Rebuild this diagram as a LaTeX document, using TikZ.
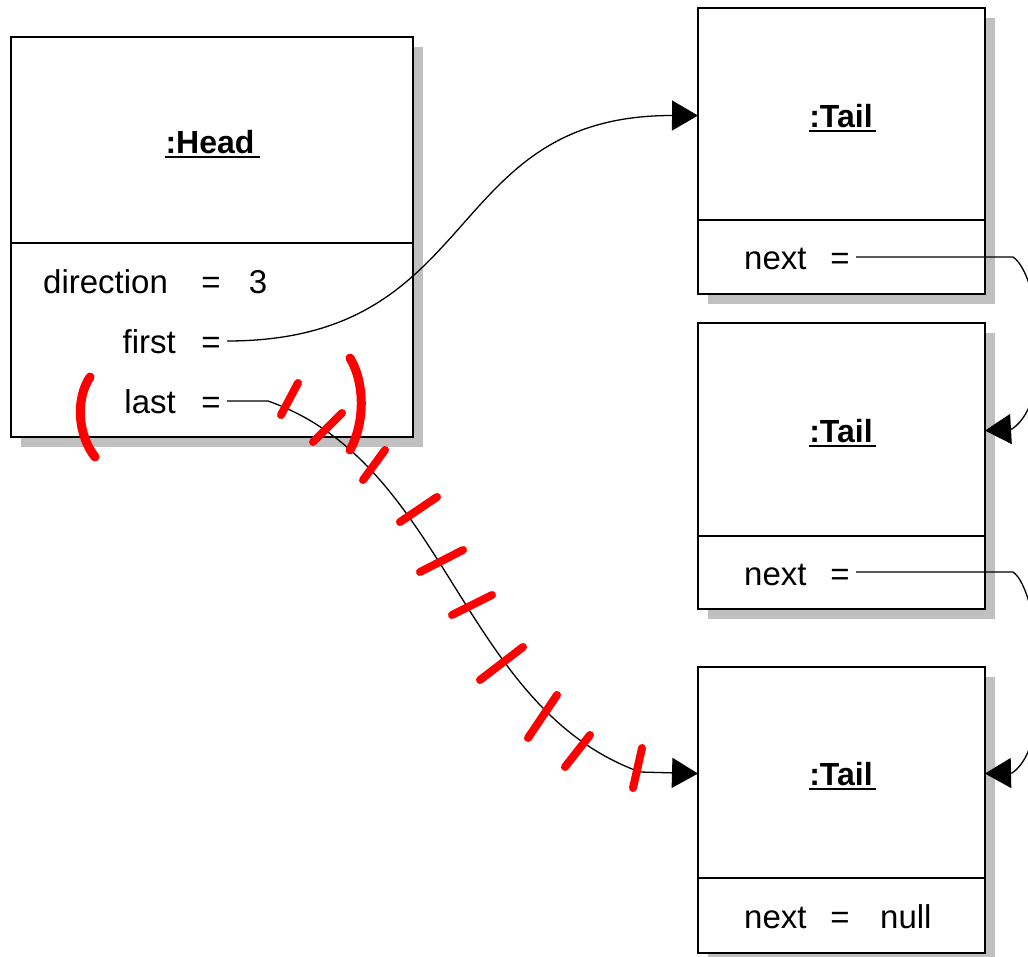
\documentclass[tikz,border=0pt]{standalone}
\usepackage{fontspec}
\setmainfont{Liberation Sans}
\usetikzlibrary{arrows.meta,shadows}
\definecolor{shadowc}{RGB}{192,192,192}
\definecolor{markred}{RGB}{255,0,0}
\begin{document}
\begin{tikzpicture}[x=1pt,y=-1pt,
  obj/.style={draw, line width=2pt, fill=white, inner sep=0pt, outer sep=0pt,
    general shadow={fill=shadowc, shadow xshift=10pt, shadow yshift=-10pt}},
  headbox/.style={obj, minimum width=402pt, minimum height=400pt},
  tailbox/.style={obj, minimum width=287pt, minimum height=286pt},
  title/.style={font=\fontsize{32}{32}\selectfont\bfseries, inner sep=0pt, anchor=base},
  attr/.style={font=\fontsize{33}{33}\selectfont, inner sep=0pt},
  sep/.style={line width=2pt},
  uline/.style={line width=2pt},
  link/.style={line width=1.3pt, -{Triangle[length=26pt,width=30pt]}},
  redmark/.style={draw=markred, line width=8pt, line cap=round},
  redparen/.style={draw=markred, line width=9pt, line cap=round}]
\path[use as bounding box] (0,0) rectangle (1028,956);
\clip (0,0) rectangle (1028,956);

% boxes
\node[headbox] (head) at (212,237) {};
\node[tailbox] (t1) at (841.5,151) {};
\node[tailbox] (t2) at (841.5,465.5) {};
\node[tailbox] (t3) at (841.5,809.5) {};

% dividers
\coordinate (hd) at (0,243);
\coordinate (d1) at (0,220);
\coordinate (d2) at (0,536);
\coordinate (d3) at (0,878);
\draw[sep] (head.west |- hd) -- (head.east |- hd);
\draw[sep] (t1.west |- d1) -- (t1.east |- d1);
\draw[sep] (t2.west |- d2) -- (t2.east |- d2);
\draw[sep] (t3.west |- d3) -- (t3.east |- d3);

% titles
\node[title] (hn) at (210,153) {:Head};
\draw[uline] ([yshift=-4pt]hn.base west) -- ([shift={(5pt,-4pt)}]hn.base east);
\node[title] (t1n) at (841,127) {:Tail};
\draw[uline] ([yshift=-4pt]t1n.base west) -- ([shift={(3pt,-4pt)}]t1n.base east);
\node[title] (t2n) at (841,442) {:Tail};
\draw[uline] ([yshift=-4pt]t2n.base west) -- ([shift={(3pt,-4pt)}]t2n.base east);
\node[title] (t3n) at (841,785) {:Tail};
\draw[uline] ([yshift=-4pt]t3n.base west) -- ([shift={(3pt,-4pt)}]t3n.base east);

% head attributes
\node[attr, anchor=base west] (dir) at (43,293) {direction};
\node[attr, anchor=base] (deq) at (211,293) {=};
\node[attr, anchor=base] (dval) at (258,293) {3};
\node[attr, anchor=base east] (fst) at (176,353) {first};
\node[attr, anchor=base] (feq) at (211,353) {=};
\node[attr, anchor=base east] (lst) at (176,413) {last};
\node[attr, anchor=base] (leq) at (211,413) {=};
\coordinate (fsrc) at (227,341);
\coordinate (lsrc) at (227,401);

% tail attributes
\node[attr, anchor=base west] (n1) at (744,269) {next};
\node[attr, anchor=base] (n1eq) at (840,269) {=};
\coordinate (n1src) at (856,257);
\node[attr, anchor=base west] (n2) at (744,585) {next};
\node[attr, anchor=base] (n2eq) at (840,585) {=};
\coordinate (n2src) at (856,572);
\node[attr, anchor=base west] (n3) at (744,928) {next};
\node[attr, anchor=base] (n3eq) at (840,928) {=};
\node[attr, anchor=base west] (n3v) at (880,928) {null};

% connectors
\draw[link] (fsrc) .. controls (485,341) and (440,115) .. (t1.west |- t1n);
\draw[link] (lsrc) -- (268,401) .. controls (448,464) and (460,707) .. (640,772) -- (t3.west |- t3n);
\draw[link] (n1src) -- (1013,257) .. controls (1040,275) and (1055,400) .. (1012,429) -- (t2.east |- t2n);
\draw[link] (n2src) -- (1013,572) .. controls (1040,590) and (1055,745) .. (1012,773) -- (t3.east |- t3n);

% red hand marks
\draw[redparen] (90,377) .. controls (75,400) and (78,435) .. (95,457);
\draw[redparen] (350,358) .. controls (366,385) and (364,425) .. (350,450);
\draw[redmark] (298,383) -- (281,415);
\draw[redmark] (342,413) -- (313,442);
\draw[redmark] (385,450) -- (363,480);
\draw[redmark] (437,497) -- (400,522);
\draw[redmark] (463,550) -- (420,572);
\draw[redmark] (492,595) -- (452,615);
\draw[redmark] (523,647) -- (480,680);
\draw[redmark] (557,695) -- (528,738);
\draw[redmark] (590,735) -- (565,767);
\draw[redmark] (642,748) -- (633,788);
\end{tikzpicture}
\end{document}
